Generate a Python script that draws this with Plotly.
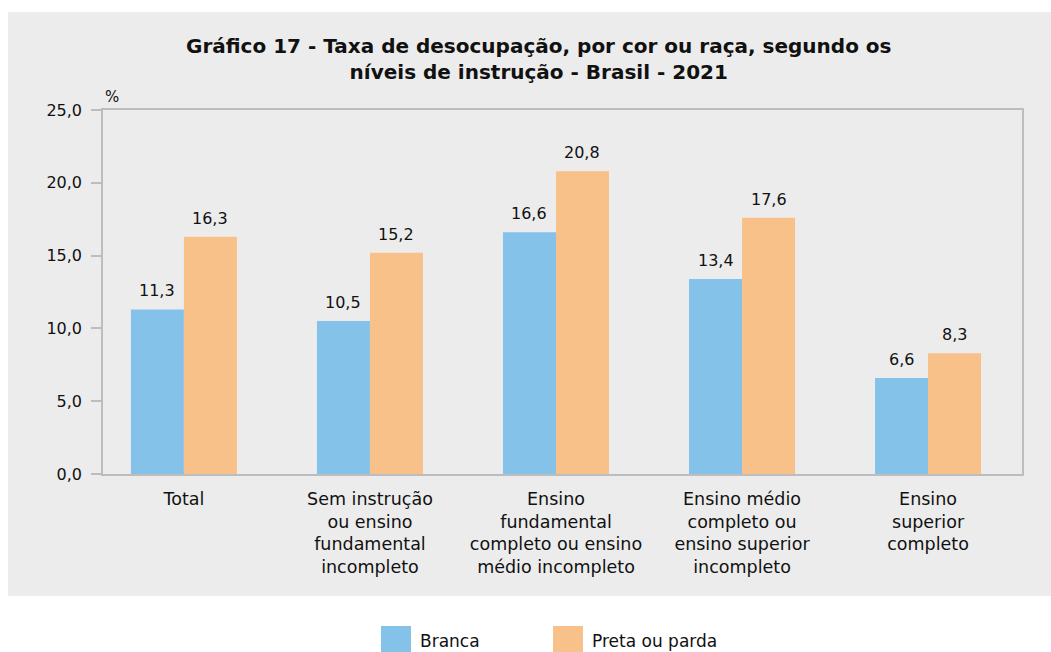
import plotly.graph_objects as go

categories = [
    "Total",
    "Sem instrução<br>ou ensino<br>fundamental<br>incompleto",
    "Ensino<br>fundamental<br>completo ou ensino<br>médio incompleto",
    "Ensino médio<br>completo ou<br>ensino superior<br>incompleto",
    "Ensino<br>superior<br>completo",
]
branca = [11.3, 10.5, 16.6, 13.4, 6.6]
preta_parda = [16.3, 15.2, 20.8, 17.6, 8.3]
series_names = ["Branca", "Preta ou parda"]
y_ticks = [0, 5, 10, 15, 20, 25]
y_tick_labels = ["0,0", "5,0", "10,0", "15,0", "20,0", "25,0"]

BLUE = "#85C2EA"
ORANGE = "#F8C18A"
GRAY_BG = "#ECECEC"
AXIS = "#BDBDBD"
FONT = "DejaVu Sans"
TXT = "#111111"

def fmt(v):
    return f"{v:.1f}".replace(".", ",")

fig = go.Figure()
fig.add_trace(go.Bar(x=categories, y=branca, name=series_names[0],
                     marker=dict(color=BLUE, line=dict(width=0)), showlegend=False))
fig.add_trace(go.Bar(x=categories, y=preta_parda, name=series_names[1],
                     marker=dict(color=ORANGE, line=dict(width=0)), showlegend=False))

annotations = []
for series, shift in ((branca, -26.5), (preta_parda, 26.5)):
    for c, v in zip(categories, series):
        annotations.append(dict(x=c, y=v, xref="x", yref="y", text=fmt(v),
                                showarrow=False, xshift=shift, yanchor="bottom",
                                yshift=7, font=dict(family=FONT, size=16, color=TXT)))

annotations.append(dict(x=-0.435, y=25, xref="x", yref="y", text="%", showarrow=False,
                        xanchor="left", yanchor="bottom", xshift=0, yshift=2,
                        font=dict(family=FONT, size=15, color=TXT)))
annotations.append(dict(x=0.5, y=1, xref="paper", yref="paper", yanchor="bottom",
                        text="<b>Gráfico 17 - Taxa de desocupação, por cor ou raça, segundo os<br>níveis de instrução - Brasil - 2021</b>",
                        showarrow=False, yshift=24, xshift=-24,
                        font=dict(family=FONT, size=20, color=TXT)))

# manual legend (paper coords)
W, H = 1051, 652
L, R, T, B = 103, 29, 110, 178
pw, ph = W - L - R, H - T - B
def px(x): return (x - L) / pw
def py(y): return (H - B - y) / ph

shapes = [dict(type="rect", xref="paper", yref="paper", x0=px(8), x1=px(1051),
               y0=py(596), y1=py(12), fillcolor=GRAY_BG, line=dict(width=0), layer="below")]
legend_items = [(series_names[0], BLUE, 381), (series_names[1], ORANGE, 553)]
for name, col, x0 in legend_items:
    shapes.append(dict(type="rect", xref="paper", yref="paper", x0=px(x0), x1=px(x0 + 30),
                       y0=py(652), y1=py(626), fillcolor=col, line=dict(width=0)))
    annotations.append(dict(x=px(x0 + 37), y=py(641), xref="paper", yref="paper", text=name,
                            showarrow=False, xanchor="left", yanchor="middle",
                            font=dict(family=FONT, size=17, color=TXT)))

fig.update_layout(
    width=W, height=H,
    margin=dict(l=L, r=R, t=T, b=B),
    paper_bgcolor="white",
    plot_bgcolor="white",
    barmode="group",
    bargap=0.43,
    bargroupgap=0,
    shapes=shapes,
    annotations=annotations,
    font=dict(family=FONT, size=16, color=TXT),
)
fig.update_xaxes(range=[-0.435, 4.505], showline=True, linecolor=AXIS, linewidth=1.5,
                 mirror=True, ticks="", tickfont=dict(family=FONT, size=17.5, color=TXT),
                 showgrid=False, ticklabelstandoff=8)
fig.update_yaxes(range=[0, 25], tickvals=y_ticks, ticktext=y_tick_labels, showline=True,
                 linecolor=AXIS, linewidth=1.5, mirror=True, ticks="outside", ticklen=10,
                 tickcolor=AXIS, tickwidth=1.5, showgrid=False, zeroline=False,
                 ticklabelstandoff=6,
                 tickfont=dict(family=FONT, size=16, color=TXT))

fig.write_html("out.html", config={"displayModeBar": False},
               post_script="document.body.style.margin='0';")
